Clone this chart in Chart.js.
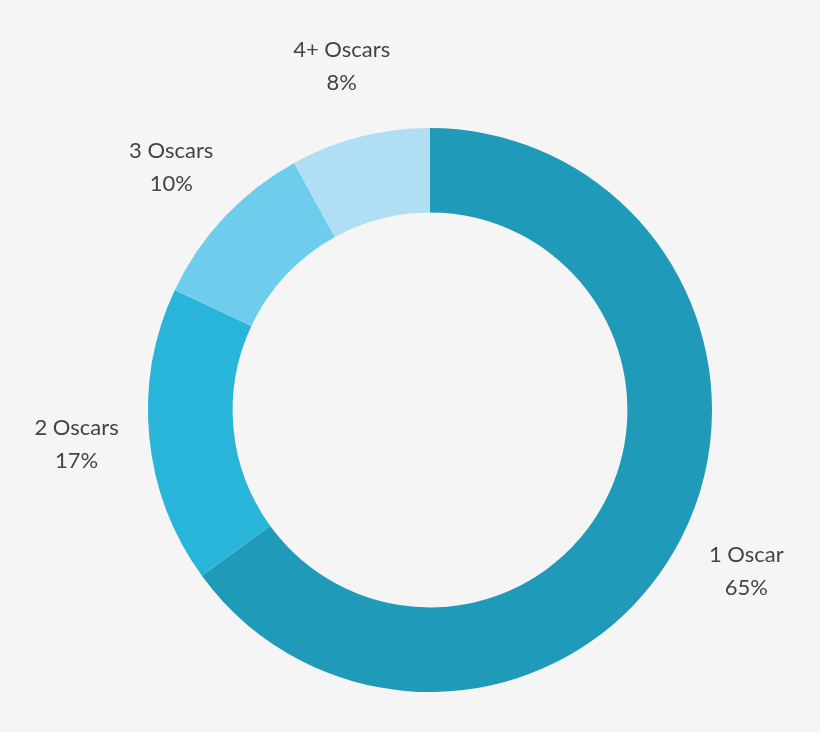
<!DOCTYPE html>
<html>
<head>
<meta charset="utf-8">
<script src="https://cdn.jsdelivr.net/npm/chart.js@4"></script>
<style>
  html, body { margin: 0; padding: 0; background: #f5f5f5; }
  #wrap { width: 820px; height: 732px; }
</style>
</head>
<body>
<div id="wrap"><canvas id="donutChart"></canvas></div>
<script>
const labels = ["1 Oscar", "2 Oscars", "3 Oscars", "4+ Oscars"];
const shares = [65, 17, 10, 8];
const colors = ["#1f9ab9", "#29b5d9", "#6ecdec", "#b0def2"];

// draw the category name and percent outside each slice
const outsideLabels = {
  id: "outsideLabels",
  afterDraw(chart) {
    const ctx = chart.ctx;
    const meta = chart.getDatasetMeta(0);
    ctx.save();
    ctx.fillStyle = "#444";
    ctx.font = "22px Lato, 'Open Sans', sans-serif";
    ctx.textAlign = "center";
    ctx.textBaseline = "middle";
    meta.data.forEach((arc, i) => {
      const mid = (arc.startAngle + arc.endAngle) / 2;
      const r = arc.outerRadius + 73;
      const x = arc.x + Math.cos(mid) * r;
      const y = arc.y + Math.sin(mid) * r;
      ctx.fillText(labels[i], x, y - 16);
      ctx.fillText(shares[i] + "%", x, y + 17);
    });
    ctx.restore();
  },
};

new Chart(document.getElementById("donutChart"), {
  type: "doughnut",
  data: {
    labels: labels,
    datasets: [{ data: shares, backgroundColor: colors, borderWidth: 0 }],
  },
  options: {
    responsive: true,
    maintainAspectRatio: false,
    animation: false,
    cutout: "70%",
    layout: { padding: { top: 128, bottom: 40, left: 148, right: 108 } },
    plugins: { legend: { display: false }, tooltip: { enabled: false } },
  },
  plugins: [outsideLabels],
});
</script>
</body>
</html>
